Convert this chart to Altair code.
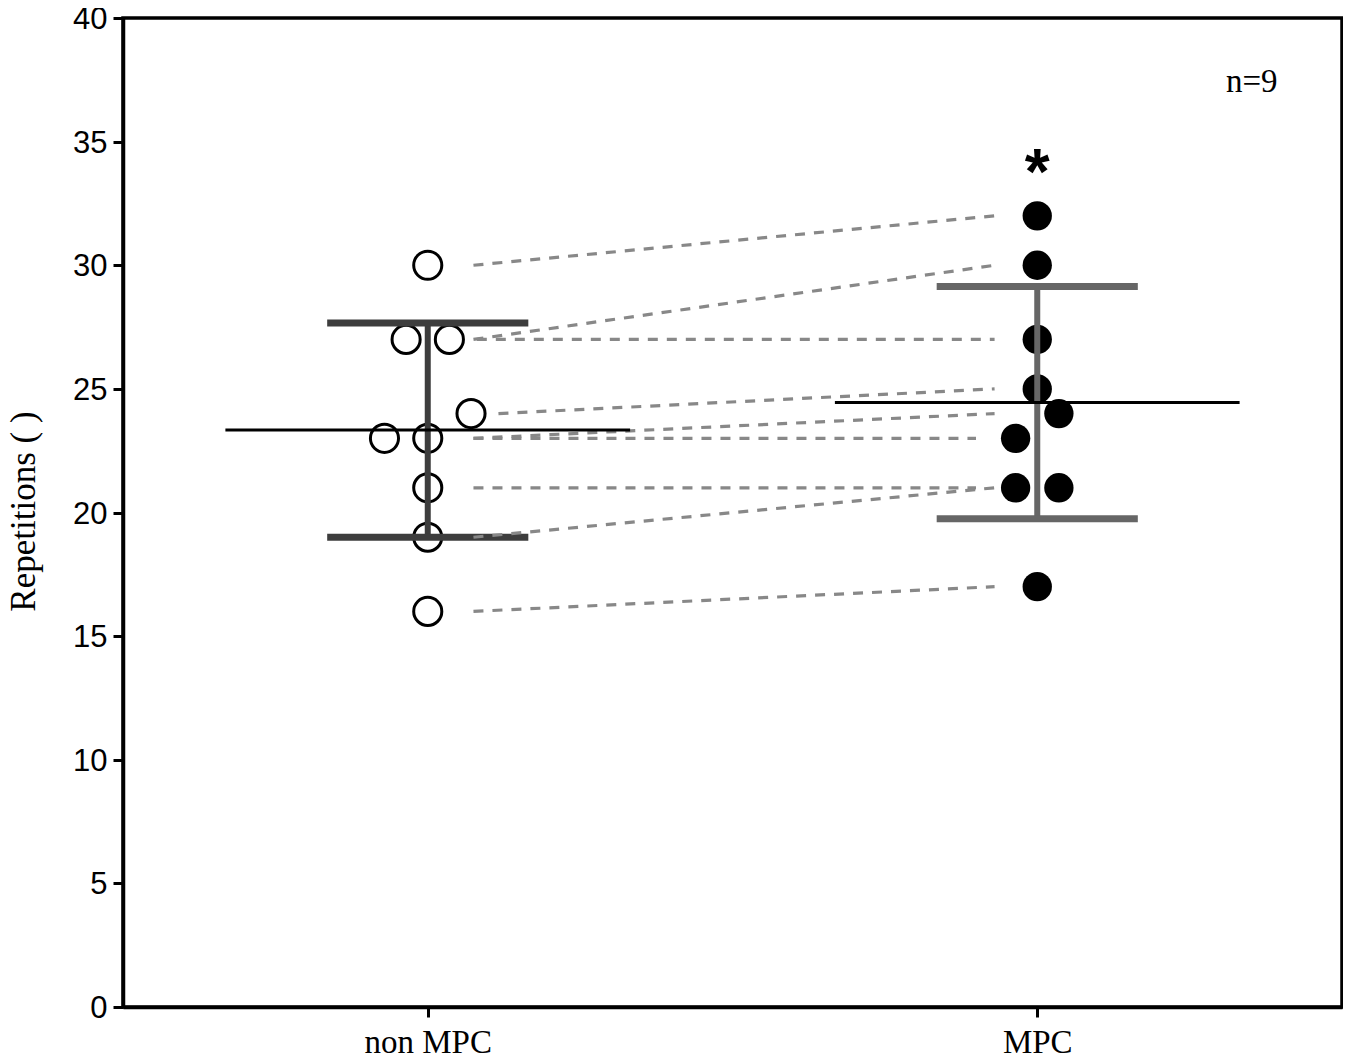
import altair as alt
import pandas as pd
import numpy as np

# ---------------- data ----------------
groups = ["non MPC", "MPC"]
non_mpc = [30, 27, 27, 24, 23, 23, 21, 19, 16]
mpc = [32, 30, 27, 25, 24, 23, 21, 21, 17]
# beeswarm slot of each point (left/right of the group centre)
non_mpc_slot = [0, -1, 1, 2, -2, 0, 0, 0, 0]
mpc_slot = [0, 0, 0, 0, 1, -1, -1, 1, 0]
y_ticks = [0, 5, 10, 15, 20, 25, 30, 35, 40]
n_text = ["n=9"]
sig_text = ["*"]

# ---------------- layout constants ----------------
SLOT = 0.0355
CAP_HALF = 0.165
MEAN_HALF = 0.332

pts_rows = []
for gi, (vals, slots) in enumerate([(non_mpc, non_mpc_slot), (mpc, mpc_slot)]):
    for v, s in zip(vals, slots):
        pts_rows.append({"group": groups[gi], "x": gi + s * SLOT, "y": v})
pts = pd.DataFrame(pts_rows)

sum_rows = []
for gi, vals in enumerate([non_mpc, mpc]):
    a = np.array(vals, dtype=float)
    m = a.mean()
    sd = a.std(ddof=1)
    sum_rows.append({"group": groups[gi], "gx": gi, "mean": m, "lo": m - sd, "hi": m + sd,
                     "cl": gi - CAP_HALF, "cr": gi + CAP_HALF,
                     "ml": gi - MEAN_HALF, "mr": gi + MEAN_HALF})
summ = pd.DataFrame(sum_rows)

pair_rows = []
for a, b, sa, sb in zip(non_mpc, mpc, non_mpc_slot, mpc_slot):
    x1 = max(0.075, sa * SLOT + 0.045)
    x2 = 1 + min(-0.07, sb * SLOT - 0.065)
    pair_rows.append({"x1": x1, "x2": x2, "y1": a, "y2": b})
pairs = pd.DataFrame(pair_rows)

xs = alt.Scale(domain=[-0.5, 1.5], nice=False, zero=False)
ys = alt.Scale(domain=[0, 40], nice=False, zero=False)

x_axis = alt.Axis(values=[0, 1],
                  labelExpr="datum.value == 0 ? 'non MPC' : 'MPC'",
                  labelFont="Liberation Serif", labelFontSize=33, labelColor="black",
                  labelBaseline="alphabetic", labelPadding=35,
                  tickSize=10, tickWidth=3, tickColor="black",
                  domainColor="black", domainWidth=3.5, grid=False, title=None,
                  labelFlush=False)
y_axis = alt.Axis(values=y_ticks, format="d",
                  labelFont="Liberation Sans", labelFontSize=31, labelColor="black",
                  labelPadding=6, labelOffset=1.5, tickSize=10, tickWidth=3, tickColor="black",
                  domainColor="black", domainWidth=3.5, grid=False,
                  title="Repetitions ( )", titleFont="Liberation Serif",
                  titleFontSize=35, titleFontWeight="normal", titleColor="black",
                  titleX=-89, titleY=493, titleAngle=-90, titleAlign="center",
                  titleBaseline="alphabetic")


def X(field):
    return alt.X(field, type="quantitative", scale=xs, axis=x_axis)


def Y(field):
    return alt.Y(field, type="quantitative", scale=ys, axis=y_axis)


# points
open_pts = alt.Chart(pts[pts["group"] == "non MPC"]).mark_point(
    shape="circle", filled=False, stroke="black", strokeWidth=3, size=790, opacity=1
).encode(x=X("x"), y=Y("y"))

fill_pts = alt.Chart(pts[pts["group"] == "MPC"]).mark_circle(
    color="black", size=860, opacity=1
).encode(x=X("x"), y=Y("y"))

bar_color = alt.Color("group:N", scale=alt.Scale(domain=groups, range=["#3d3d3d", "#666666"]),
                      legend=None)

vbar = alt.Chart(summ).mark_rule(strokeWidth=6).encode(
    x=X("gx"), y=Y("lo"), y2="hi:Q", color=bar_color)

cap_hi = alt.Chart(summ).mark_rule(strokeWidth=7).encode(
    x=X("cl"), x2="cr:Q", y=Y("hi"), color=bar_color)
cap_lo = alt.Chart(summ).mark_rule(strokeWidth=7).encode(
    x=X("cl"), x2="cr:Q", y=Y("lo"), color=bar_color)

mean_line = alt.Chart(summ).mark_rule(strokeWidth=3, color="black").encode(
    x=X("ml"), x2="mr:Q", y=Y("mean"))

dashes = alt.Chart(pairs).mark_rule(strokeWidth=3.2, color="#888888", strokeDash=[10, 9]).encode(
    x=X("x1"), x2="x2:Q", y=Y("y1"), y2="y2:Q")

star = alt.Chart(pd.DataFrame({"t": sig_text, "x": [1.0], "y": [32.9]})).mark_text(
    font="Liberation Sans", fontSize=64, fontWeight="bold", color="black",
    align="center", baseline="alphabetic"
).encode(x=X("x"), y=Y("y"), text="t:N")

ntxt = alt.Chart(pd.DataFrame({"t": n_text, "x": [1.352], "y": [37.0]})).mark_text(
    font="Liberation Serif", fontSize=33, color="black",
    align="center", baseline="alphabetic"
).encode(x=X("x"), y=Y("y"), text="t:N")

chart = alt.layer(open_pts, fill_pts, vbar, cap_hi, cap_lo, dashes, mean_line, star, ntxt).properties(
    width=1219, height=989,
    autosize=alt.AutoSizeParams(type="none"),
    padding={"left": 115, "top": 10, "right": 1, "bottom": 46},
    background="white",
).configure_view(stroke="black", strokeWidth=3.5)

chart.save("out.html", embed_options={"renderer": "svg", "actions": False})
